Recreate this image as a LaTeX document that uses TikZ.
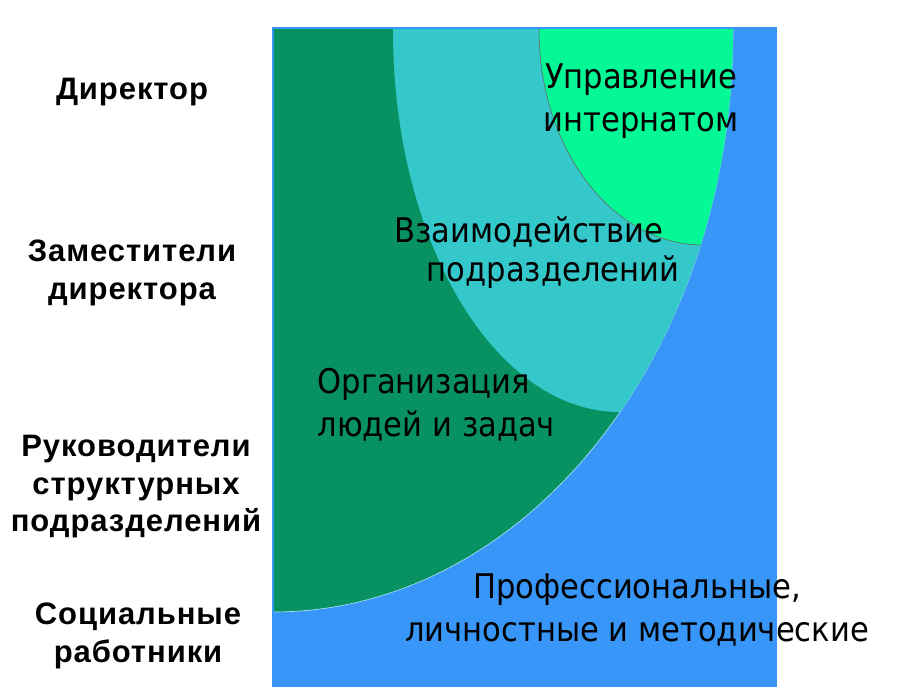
\documentclass[tikz,border=0pt]{standalone}
\usepackage{fontspec}
\setmainfont{DejaVu Sans}
\newfontfamily\rolefont{Liberation Sans}[LetterSpace=3]
\newfontfamily\areafont{DejaVu Sans}[FakeStretch=0.9]
\usepackage{xcolor}
\usepackage{tikz}

\definecolor{bgblue}{RGB}{56,150,248}
\definecolor{orggreen}{RGB}{8,146,98}
\definecolor{coopteal}{RGB}{52,200,203}
\definecolor{mgmtgreen}{RGB}{4,248,150}

\begin{document}
\begin{tikzpicture}[x=1pt,y=-1pt,
  role/.style={font=\rolefont\bfseries\fontsize{31}{37.5}\selectfont, align=center},
  area/.style={font=\areafont\fontsize{34}{43}\selectfont, align=center}]
\useasboundingbox (0,0) rectangle (906,690);
\fill[white] (0,0) rectangle (906,690);

% blue square
\fill[bgblue] (272,27) rectangle (777,687);

\begin{scope}
\clip (274,30) rectangle (777,687);
\fill[orggreen] (273,30) ellipse [x radius=460, y radius=582];
\draw[cyan!30, line width=0.6] (273,30) ellipse [x radius=460, y radius=582];
\clip (273,30) ellipse [x radius=460, y radius=582];
\fill[coopteal] (620,30) ellipse [x radius=227, y radius=382];
\fill[mgmtgreen] (703,30) ellipse [x radius=164, y radius=215];
\draw[black!60, line width=0.6] (703,30) ellipse [x radius=164, y radius=215];
\end{scope}

% levels
\node[role] (dir) at (132,92) {Директор};
\node[role] (dep) at (132,273) {Заместители\\директора};
\node[role] (head) at (136,487) {Руководители\\структурных\\подразделений};
\node[role] (soc) at (138,636) {Социальные\\работники};

% areas
\node[area] (mgmt) at (641,101) {Управление\\интернатом};
\node[area] (coop1) at (529,232) {Взаимодействие};
\node[area] (coop2) at (553,272) {подразделений};
\node[area, align=left, anchor=west] (org) at (314,405) {Организация\\людей и задач};
\node[area] (prof) at (637,610) {Профессиональные,\\личностные и методические};

\end{tikzpicture}
\end{document}
